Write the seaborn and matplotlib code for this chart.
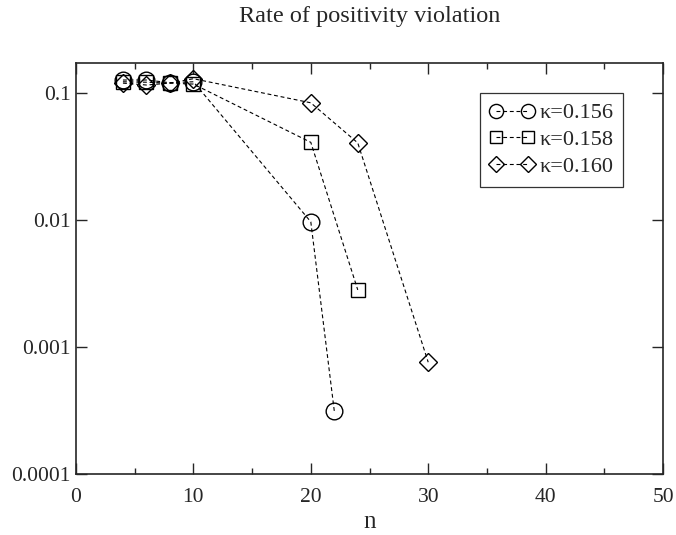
import pandas as pd
import seaborn as sns
import matplotlib.pyplot as plt
from matplotlib.lines import Line2D
from matplotlib.legend_handler import HandlerLine2D
from matplotlib.ticker import FixedLocator, MultipleLocator, NullLocator

# data
n_156 = [4, 6, 8, 10, 20, 22]
rate_156 = [0.127, 0.127, 0.121, 0.123, 0.0097, 0.000314]
n_158 = [4, 6, 8, 10, 20, 24]
rate_158 = [0.123, 0.122, 0.120, 0.118, 0.041, 0.00282]
n_160 = [4, 6, 8, 10, 20, 24, 30]
rate_160 = [0.120, 0.116, 0.120, 0.130, 0.084, 0.0406, 0.00076]

labels = ["κ=0.156", "κ=0.158", "κ=0.160"]

df = pd.concat([
    pd.DataFrame({"n": n_156, "rate": rate_156, "kappa": labels[0]}),
    pd.DataFrame({"n": n_158, "rate": rate_158, "kappa": labels[1]}),
    pd.DataFrame({"n": n_160, "rate": rate_160, "kappa": labels[2]}),
])

sns.set_style("ticks")
plt.rcParams["font.family"] = ["Liberation Serif", "DejaVu Serif"]

fig = plt.figure(figsize=(6.76, 5.35), dpi=100)
ax = fig.add_axes([0.1124, 0.114, 0.8684, 0.7677])

markers = {labels[0]: ("o", 12.0), labels[1]: ("s", 10.0), labels[2]: ("D", 9.2)}

for k in labels:
    m, ms = markers[k]
    sns.lineplot(
        data=df[df["kappa"] == k],
        x="n",
        y="rate",
        ax=ax,
        color="black",
        linewidth=0.8,
        dashes=False,
        marker=m,
        markersize=ms,
        markerfacecolor="none",
        markeredgecolor="black",
        markeredgewidth=1.0,
        label=k,
        sort=False,
    )

for line in ax.get_lines():
    line.set_linestyle((0, (3.5, 2.5)))

ax.set_yscale("log")
ax.set_xlim(0, 50)
ax.set_ylim(1e-4, 0.172)

ax.xaxis.set_major_locator(MultipleLocator(10))
ax.xaxis.set_minor_locator(MultipleLocator(5))
ax.yaxis.set_major_locator(FixedLocator([1e-4, 1e-3, 1e-2, 1e-1]))
ax.yaxis.set_minor_locator(NullLocator())
ax.set_yticklabels(["0.0001", "0.001", "0.01", "0.1"])

ax.tick_params(which="both", direction="in", top=True, right=True,
               labelsize=15.5, width=1.0)
ax.tick_params(axis="x", which="both", pad=10)
ax.tick_params(axis="y", which="both", pad=4)
ax.tick_params(which="major", length=8)
ax.tick_params(which="minor", length=4)
for s in ax.spines.values():
    s.set_linewidth(1.2)

ax.set_xlabel("n", fontsize=18, labelpad=3)
ax.set_ylabel("")
ax.set_title("Rate of positivity violation", fontsize=17.5, pad=30)

leg = ax.legend(loc="upper right", bbox_to_anchor=(0.932, 0.928),
                borderaxespad=0, numpoints=2, fontsize=16, markerscale=0.85,
                frameon=True, fancybox=False, edgecolor="black",
                handlelength=2.0, handletextpad=0.2,
                labelspacing=0.27, borderpad=0.45,
                handler_map={Line2D: HandlerLine2D(marker_pad=0.28)})
leg.get_frame().set_linewidth(0.9)

plt.savefig("out.png", dpi=100)
